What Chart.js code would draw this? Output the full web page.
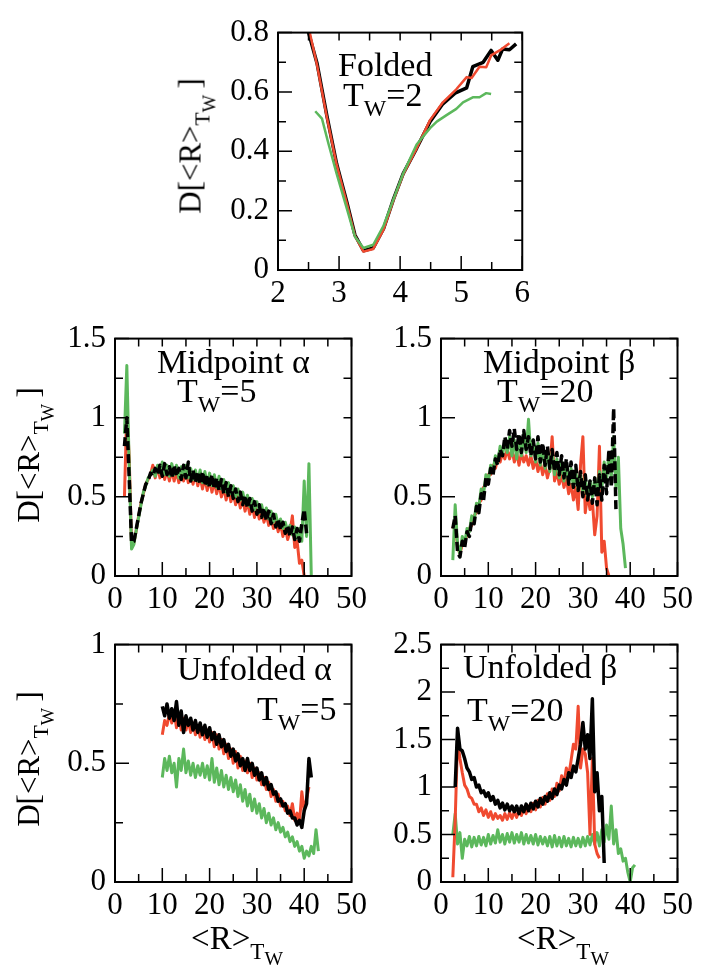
<!DOCTYPE html>
<html>
<head>
<meta charset="utf-8">
<script src="https://cdn.jsdelivr.net/npm/chart.js@4.4.1/dist/chart.umd.min.js"></script>
<style>
  html, body { margin: 0; padding: 0; background: #fff; overflow: hidden; }
  #page { position: relative; width: 705px; height: 968px; }
  canvas { position: absolute; }
  .t { position: absolute; font-family: 'Liberation Serif', 'Times New Roman', serif; color: #000; line-height: 1; white-space: nowrap; }
  .ann { font-size: 34px; }
  .ytitle { font-size: 31px; transform: translate(-50%, -50%) rotate(-90deg); }
  .xtitle { font-size: 33px; transform: translateX(-50%); }
  sub { font-size: 0.7em; vertical-align: baseline; position: relative; top: 0.42em; line-height: 0; }
  sub sub { font-size: 0.85em; top: 0.3em; }
</style>
</head>
<body>
<div id="page">
  <canvas id="pFolded" width="367" height="315" style="left:168px;top:5px"></canvas>
  <canvas id="pMidA" width="367" height="315" style="left:5px;top:311px"></canvas>
  <canvas id="pMidB" width="367" height="315" style="left:331px;top:311px"></canvas>
  <canvas id="pUnfA" width="367" height="315" style="left:5px;top:617px"></canvas>
  <canvas id="pUnfB" width="367" height="315" style="left:331px;top:617px"></canvas>

  <div class="t ytitle" style="left:190px;top:146px">D[&lt;R&gt;<sub>T<sub>W</sub></sub>&thinsp;]</div>
  <div class="t ytitle" style="left:28px;top:455px">D[&lt;R&gt;<sub>T<sub>W</sub></sub>&thinsp;]</div>
  <div class="t ytitle" style="left:28px;top:759px">D[&lt;R&gt;<sub>T<sub>W</sub></sub>&thinsp;]</div>

  <div class="t xtitle" style="left:237px;top:922px">&lt;R&gt;<sub>T<sub>W</sub></sub></div>
  <div class="t xtitle" style="left:563px;top:922px">&lt;R&gt;<sub>T<sub>W</sub></sub></div>

  <div class="t ann" style="left:338px;top:48px">Folded</div>
  <div class="t ann" style="left:343px;top:78px">T<sub>W</sub>=2</div>
  <div class="t ann" style="left:157px;top:345px">Midpoint α</div>
  <div class="t ann" style="left:177px;top:374px">T<sub>W</sub>=5</div>
  <div class="t ann" style="left:483px;top:345px">Midpoint β</div>
  <div class="t ann" style="left:497px;top:374px">T<sub>W</sub>=20</div>
  <div class="t ann" style="left:177px;top:652px">Unfolded α</div>
  <div class="t ann" style="left:257px;top:692px">T<sub>W</sub>=5</div>
  <div class="t ann" style="left:463px;top:650px">Unfolded β</div>
  <div class="t ann" style="left:467px;top:693px">T<sub>W</sub>=20</div>
</div>

<script>
// ---- data ----

// Folded, Tw=2
var foldedBlackX = [2.50,2.64,2.80,2.96,3.13,3.26,3.40,3.56,3.73,3.89,4.05,4.27,4.49,4.70,4.90,5.09,5.19,5.36,5.49,5.60,5.68,5.79,5.90];
var foldedBlackY = [0.80,0.696,0.52,0.358,0.227,0.118,0.065,0.074,0.14,0.238,0.325,0.41,0.50,0.56,0.596,0.614,0.685,0.70,0.74,0.707,0.745,0.742,0.762];
var foldedRedX = [2.52,2.64,2.80,2.96,3.13,3.26,3.40,3.56,3.73,3.89,4.05,4.27,4.49,4.70,4.92,5.09,5.17,5.30,5.41,5.49,5.63,5.79];
var foldedRedY = [0.80,0.69,0.515,0.355,0.222,0.115,0.062,0.071,0.137,0.235,0.322,0.41,0.505,0.565,0.609,0.65,0.647,0.685,0.683,0.723,0.74,0.764];
var foldedGreenX = [2.61,2.72,2.83,2.96,3.13,3.26,3.40,3.56,3.73,3.89,4.05,4.27,4.49,4.60,4.76,4.92,5.03,5.19,5.30,5.41,5.49];
var foldedGreenY = [0.535,0.51,0.423,0.325,0.205,0.112,0.074,0.085,0.15,0.238,0.325,0.423,0.478,0.50,0.522,0.543,0.565,0.582,0.582,0.596,0.593];

// Midpoint alpha, Tw=5
var midAlphaX = [2,2.5,3,3.5,4,4.5,5,5.5,6,6.5,7,7.5,8,8.5,9,9.5,10,10.5,11,11.5,12,12.5,13,13.5,14,14.5,15,15.5,16,16.5,17,17.5,18,18.5,19,19.5,20,20.5,21,21.5,22,22.5,23,23.5,24,24.5,25,25.5,26,26.5,27,27.5,28,28.5,29,29.5,30,30.5,31,31.5,32,32.5,33,33.5,34,34.5,35,35.5,36,36.5,37,37.5,38,38.5,39,39.5,40,40.5,41,41.5];
var midAlphaBlack = [0.82,1.00,0.62,0.21,0.22,0.30,0.38,0.46,0.52,0.58,
  0.60,0.65,0.63,0.68,0.64,0.70,0.63,0.71,0.64,0.69,
  0.62,0.70,0.63,0.68,0.61,0.70,0.62,0.72,0.60,0.67,
  0.59,0.66,0.58,0.66,0.57,0.64,0.56,0.64,0.55,0.62,
  0.54,0.61,0.52,0.59,0.50,0.57,0.49,0.55,0.47,0.53,
  0.45,0.51,0.43,0.49,0.41,0.47,0.39,0.45,0.37,0.43,
  0.35,0.41,0.33,0.39,0.31,0.36,0.29,0.34,0.27,0.32,
  0.25,0.31,0.23,0.30,0.22,0.33,0.42,0.27];
var midAlphaRed = [0.50,1.05,0.75,0.20,0.21,0.29,0.38,0.46,0.52,0.58,
  0.61,0.64,0.70,0.62,0.69,0.62,0.68,0.61,0.67,0.60,
  0.67,0.60,0.66,0.59,0.67,0.60,0.67,0.59,0.66,0.58,
  0.65,0.57,0.63,0.55,0.62,0.54,0.61,0.53,0.60,0.52,
  0.58,0.50,0.56,0.48,0.55,0.47,0.53,0.45,0.51,0.43,
  0.49,0.41,0.47,0.39,0.45,0.37,0.43,0.36,0.41,0.34,
  0.39,0.32,0.37,0.30,0.35,0.28,0.33,0.25,0.31,0.23,
  0.28,0.38,0.18,0.22,0.08,0.10,0.00];
var midAlphaGreen = [0.90,1.33,0.70,0.17,0.20,0.29,0.37,0.45,0.53,0.57,
  0.62,0.64,0.67,0.63,0.70,0.65,0.72,0.64,0.70,0.63,
  0.71,0.64,0.70,0.62,0.69,0.63,0.70,0.62,0.68,0.61,
  0.67,0.60,0.67,0.59,0.66,0.58,0.65,0.57,0.64,0.56,
  0.63,0.55,0.61,0.53,0.59,0.52,0.57,0.50,0.55,0.48,
  0.53,0.46,0.51,0.44,0.49,0.42,0.47,0.40,0.45,0.38,
  0.43,0.36,0.41,0.34,0.39,0.32,0.36,0.30,0.34,0.28,
  0.32,0.26,0.31,0.24,0.30,0.22,0.60,0.25,0.71,0.00];

// Midpoint beta, Tw=20
var midBetaX = [2.5,3,3.5,4,4.5,5,5.5,6,6.5,7,7.5,8,8.5,9,9.5,10,10.5,11,11.5,12,12.5,13,13.5,14,14.5,15,15.5,16,16.5,17,17.5,18,18.5,19,19.5,20,20.5,21,21.5,22,22.5,23,23.5,24,24.5,25,25.5,26,26.5,27,27.5,28,28.5,29,29.5,30,30.5,31,31.5,32,32.5,33,33.5,34,34.5,35,35.5,36,36.5,37,37.5,38,38.5,39];
var midBetaBlack = [0.30,0.38,0.15,0.12,0.22,0.18,0.28,0.25,0.35,0.33,
  0.44,0.40,0.52,0.48,0.62,0.58,0.68,0.64,0.74,0.70,
  0.80,0.76,0.88,0.80,0.92,0.82,0.93,0.80,0.90,0.78,
  0.92,0.80,0.88,0.76,0.86,0.74,0.88,0.72,0.84,0.70,
  0.82,0.68,0.80,0.66,0.78,0.64,0.76,0.62,0.74,0.58,
  0.72,0.56,0.70,0.54,0.66,0.50,0.64,0.48,0.60,0.46,
  0.62,0.45,0.64,0.48,0.70,0.52,0.80,0.56,1.06,0.40];
var midBetaRed = [0.30,0.35,0.18,0.14,0.20,0.22,0.26,0.30,0.32,0.38,
  0.40,0.46,0.48,0.56,0.58,0.64,0.64,0.70,0.68,0.74,
  0.72,0.78,0.74,0.80,0.74,0.80,0.72,0.78,0.70,0.78,
  0.72,0.76,0.70,0.76,0.68,0.74,0.66,0.72,0.64,0.70,
  0.62,0.68,0.88,0.60,0.66,0.58,0.64,0.56,0.62,0.52,
  0.58,0.48,0.56,0.42,0.70,0.88,0.40,0.52,0.42,0.48,
  0.26,0.38,0.82,0.15,0.22,0.05,0.00];
var midBetaGreen = [0.10,0.45,0.20,0.14,0.25,0.20,0.30,0.28,0.38,0.35,
  0.46,0.44,0.55,0.52,0.64,0.60,0.70,0.66,0.76,0.72,
  0.82,0.76,0.86,0.78,0.88,0.76,0.86,0.74,0.88,0.76,
  0.90,0.78,0.99,0.76,0.86,0.72,0.84,0.70,0.82,0.68,
  0.80,0.66,0.78,0.64,0.74,0.62,0.72,0.60,0.70,0.58,
  0.68,0.56,0.66,0.54,0.64,0.52,0.62,0.50,0.60,0.50,
  0.62,0.52,0.66,0.55,0.72,0.60,0.78,0.62,0.88,0.55,
  0.75,0.30,0.20,0.05];

// Unfolded alpha, Tw=5
var unfAlphaX = [10,10.5,11,11.5,12,12.5,13,13.5,14,14.5,15,15.5,16,16.5,17,17.5,18,18.5,19,19.5,20,20.5,21,21.5,22,22.5,23,23.5,24,24.5,25,25.5,26,26.5,27,27.5,28,28.5,29,29.5,30,30.5,31,31.5,32,32.5,33,33.5,34,34.5,35,35.5,36,36.5,37,37.5,38,38.5,39,39.5,40,40.5,41,41.5,42,42.5,43];
var unfAlphaBlack = [0.74,0.70,0.75,0.69,0.73,0.68,0.76,0.66,0.72,0.63,
  0.70,0.66,0.69,0.64,0.68,0.63,0.67,0.62,0.66,0.61,
  0.65,0.60,0.63,0.58,0.62,0.57,0.60,0.55,0.58,0.53,
  0.56,0.51,0.54,0.49,0.52,0.47,0.52,0.47,0.50,0.45,
  0.48,0.43,0.46,0.41,0.44,0.39,0.41,0.37,0.38,0.34,
  0.35,0.32,0.33,0.29,0.30,0.27,0.27,0.24,0.26,0.23,
  0.30,0.33,0.52,0.44];
var unfAlphaRed = [0.62,0.68,0.66,0.71,0.67,0.72,0.65,0.70,0.64,0.69,
  0.64,0.68,0.63,0.67,0.62,0.66,0.61,0.65,0.60,0.64,
  0.59,0.63,0.57,0.62,0.56,0.60,0.54,0.58,0.52,0.56,
  0.50,0.55,0.48,0.53,0.47,0.51,0.46,0.50,0.44,0.48,
  0.43,0.46,0.41,0.44,0.39,0.42,0.36,0.39,0.34,0.37,
  0.32,0.34,0.30,0.32,0.28,0.33,0.26,0.29,0.25,0.38,
  0.30,0.35,0.40];
var unfAlphaGreen = [0.44,0.52,0.47,0.53,0.46,0.50,0.40,0.52,0.47,0.56,
  0.46,0.51,0.45,0.50,0.44,0.49,0.45,0.50,0.44,0.49,
  0.43,0.52,0.42,0.48,0.41,0.47,0.40,0.45,0.39,0.44,
  0.38,0.43,0.36,0.41,0.34,0.39,0.32,0.37,0.30,0.35,
  0.29,0.33,0.27,0.31,0.25,0.29,0.24,0.27,0.22,0.25,
  0.21,0.23,0.19,0.21,0.17,0.19,0.15,0.17,0.13,0.15,
  0.10,0.13,0.11,0.15,0.12,0.22,0.13];

// Unfolded beta, Tw=20
var unfBetaX = [2.5,3,3.5,4,4.5,5,5.5,6,6.5,7,7.5,8,8.5,9,9.5,10,10.5,11,11.5,12,12.5,13,13.5,14,14.5,15,15.5,16,16.5,17,17.5,18,18.5,19,19.5,20,20.5,21,21.5,22,22.5,23,23.5,24,24.5,25,25.5,26,26.5,27,27.5,28,28.5,29,29.5,30,30.5,31,31.5,32,32.5,33,33.5,34,34.5,35,35.5,36,36.5,37,37.5,38,38.5,39,39.5,40,40.5,41];
var unfBetaBlack = [null,1.00,1.62,1.40,1.38,1.30,1.20,1.16,1.08,1.10,
  1.00,1.02,0.94,0.96,0.90,0.94,0.86,0.90,0.82,0.86,
  0.78,0.83,0.76,0.82,0.75,0.80,0.74,0.80,0.72,0.80,
  0.74,0.82,0.75,0.83,0.77,0.85,0.79,0.88,0.82,0.90,
  0.85,0.94,0.88,0.98,0.92,1.02,0.98,1.08,1.02,1.15,
  1.10,1.22,1.16,1.30,1.45,1.68,1.40,1.55,1.30,1.93,
  0.95,1.15,0.75,0.90,0.20];
var unfBetaRed = [0.05,0.65,1.50,1.30,1.15,1.02,0.98,0.90,0.88,0.82,
  0.82,0.74,0.78,0.70,0.76,0.68,0.74,0.66,0.72,0.67,
  0.70,0.65,0.72,0.66,0.73,0.67,0.74,0.68,0.76,0.70,
  0.78,0.72,0.80,0.74,0.83,0.76,0.86,0.79,0.89,0.82,
  0.93,0.86,0.98,0.90,1.04,0.96,1.12,1.04,1.20,1.12,
  1.28,1.45,1.40,1.85,1.20,1.40,1.35,1.15,0.50,1.30,
  0.40,0.30,0.25];
var unfBetaGreen = [0.50,0.72,0.40,0.52,0.25,0.45,0.38,0.48,0.37,0.47,
  0.38,0.48,0.39,0.47,0.38,0.50,0.40,0.49,0.41,0.55,
  0.42,0.50,0.40,0.51,0.42,0.52,0.41,0.50,0.42,0.52,
  0.40,0.50,0.41,0.49,0.40,0.50,0.39,0.48,0.40,0.47,
  0.38,0.48,0.37,0.49,0.38,0.47,0.37,0.48,0.38,0.46,
  0.37,0.47,0.38,0.46,0.37,0.47,0.38,0.48,0.39,0.50,
  0.40,0.52,0.38,0.55,0.42,0.60,0.45,0.80,0.40,0.55,
  0.30,0.35,0.22,0.25,0.10,0.00,0.15,0.18];

// tick labels
var foldedXTicks = [2, 3, 4, 5, 6];
var foldedYTicks = [0, 0.2, 0.4, 0.6, 0.8];
var rTicks = [0, 10, 20, 30, 40, 50];
var midYTicks = [0, 0.5, 1, 1.5];
var unfAlphaYTicks = [0, 0.5, 1];
var unfBetaYTicks = [0, 0.5, 1, 1.5, 2, 2.5];

// ---- drawing ----
var FONT = "'Liberation Serif', 'Times New Roman', serif";
var BLACK = '#000000', RED = '#f04a30', GREEN = '#5cb85c';

function pts(xs, ys) {
  return ys.map(function (y, i) { return { x: xs[i], y: y }; });
}

function line(data, color, width, order, dash) {
  return {
    data: data,
    borderColor: color,
    borderWidth: width,
    borderDash: dash || [],
    borderJoinStyle: 'round',
    pointRadius: 0,
    tension: 0,
    fill: false,
    order: order
  };
}

// box frame + inward ticks on all four sides
var frameTicks = {
  id: 'frameTicks',
  afterDatasetsDraw: function (chart) {
    var ctx = chart.ctx, a = chart.chartArea;
    var x = chart.scales.x, y = chart.scales.y;
    var xv = x.ticks.map(function (t) { return t.value; });
    var yv = y.ticks.map(function (t) { return t.value; });
    ctx.save();
    ctx.strokeStyle = '#000';
    ctx.lineWidth = 1.5;
    ctx.beginPath();
    xv.forEach(function (v, i) {
      var p = x.getPixelForValue(v);
      ctx.moveTo(p, a.bottom); ctx.lineTo(p, a.bottom - 14);
      ctx.moveTo(p, a.top); ctx.lineTo(p, a.top + 8);
      if (i < xv.length - 1) {
        var m = x.getPixelForValue((v + xv[i + 1]) / 2);
        ctx.moveTo(m, a.bottom); ctx.lineTo(m, a.bottom - 8);
        ctx.moveTo(m, a.top); ctx.lineTo(m, a.top + 8);
      }
    });
    yv.forEach(function (v, i) {
      var p = y.getPixelForValue(v);
      ctx.moveTo(a.left, p); ctx.lineTo(a.left + 14, p);
      ctx.moveTo(a.right, p); ctx.lineTo(a.right - 8, p);
      if (i < yv.length - 1) {
        var m = y.getPixelForValue((v + yv[i + 1]) / 2);
        ctx.moveTo(a.left, m); ctx.lineTo(a.left + 8, m);
        ctx.moveTo(a.right, m); ctx.lineTo(a.right - 8, m);
      }
    });
    ctx.stroke();
    ctx.lineWidth = 2;
    ctx.strokeRect(a.left, a.top, a.right - a.left, a.bottom - a.top);
    ctx.restore();
  }
};

function panel(id, xTicks, yTicks, datasets) {
  var tickFont = { family: FONT, size: 31 };
  new Chart(document.getElementById(id), {
    type: 'line',
    data: { datasets: datasets },
    options: {
      responsive: false,
      animation: false,
      layout: { padding: { left: 0, top: 20, right: 12, bottom: 0 } },
      plugins: { legend: { display: false }, tooltip: { enabled: false } },
      scales: {
        x: {
          type: 'linear',
          min: xTicks[0], max: xTicks[xTicks.length - 1],
          grid: { display: false, drawTicks: false },
          border: { display: false },
          ticks: { color: '#000', font: tickFont, padding: 5, maxRotation: 0, autoSkip: false,
                   callback: function (v) { return String(v); } },
          afterBuildTicks: function (s) { s.ticks = xTicks.map(function (v) { return { value: v }; }); },
          afterFit: function (s) { s.height = 50; }
        },
        y: {
          type: 'linear',
          min: yTicks[0], max: yTicks[yTicks.length - 1],
          grid: { display: false, drawTicks: false },
          border: { display: false },
          ticks: { color: '#000', font: tickFont, padding: 9, autoSkip: false,
                   callback: function (v) { return String(v); } },
          afterBuildTicks: function (s) { s.ticks = yTicks.map(function (v) { return { value: v }; }); },
          afterFit: function (s) { s.width = 110; }
        }
      }
    },
    plugins: [frameTicks]
  });
}

panel('pFolded', foldedXTicks, foldedYTicks, [
  line(pts(foldedGreenX, foldedGreenY), GREEN, 2.5, 0),
  line(pts(foldedRedX, foldedRedY), RED, 2.5, 1),
  line(pts(foldedBlackX, foldedBlackY), BLACK, 3.5, 2)
]);

panel('pMidA', rTicks, midYTicks, [
  line(pts(midAlphaX, midAlphaBlack), BLACK, 3.5, 0, [9, 4]),
  line(pts(midAlphaX, midAlphaGreen), GREEN, 3, 1),
  line(pts(midAlphaX, midAlphaRed), RED, 3, 2)
]);

panel('pMidB', rTicks, midYTicks, [
  line(pts(midBetaX, midBetaBlack), BLACK, 3.5, 0, [9, 4]),
  line(pts(midBetaX, midBetaGreen), GREEN, 3, 1),
  line(pts(midBetaX, midBetaRed), RED, 3, 2)
]);

panel('pUnfA', rTicks, unfAlphaYTicks, [
  line(pts(unfAlphaX, unfAlphaBlack), BLACK, 3.5, 0),
  line(pts(unfAlphaX, unfAlphaRed), RED, 3, 1),
  line(pts(unfAlphaX, unfAlphaGreen), GREEN, 3, 2)
]);

panel('pUnfB', rTicks, unfBetaYTicks, [
  line(pts(unfBetaX, unfBetaBlack), BLACK, 3.5, 0),
  line(pts(unfBetaX, unfBetaRed), RED, 3, 1),
  line(pts(unfBetaX, unfBetaGreen), GREEN, 3, 2)
]);
</script>
</body>
</html>
